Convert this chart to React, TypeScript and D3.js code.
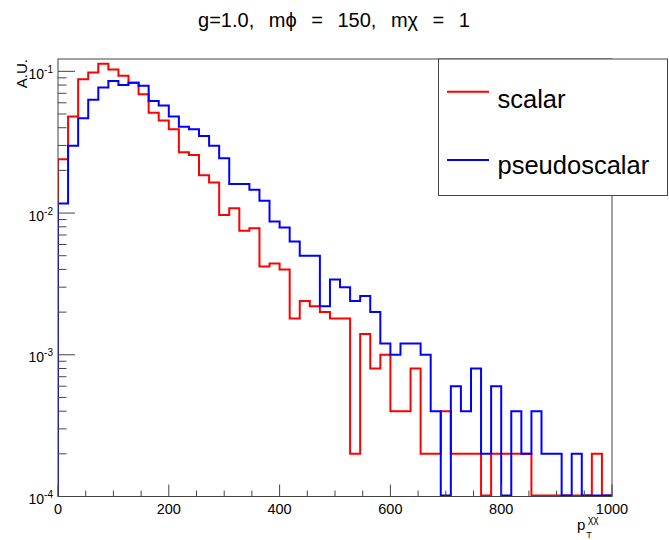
import React from "react";
import * as d3 from "d3";

const titleText = "g=1.0, mϕ = 150, mχ = 1";
const xDomain = [0, 1000];
const nBins = 55;
const scalarValues = [
  0.024, 0.048, 0.088, 0.098, 0.113, 0.103, 0.093, 0.083, 0.069, 0.051,
  0.045, 0.039, 0.0269, 0.0257, 0.0185, 0.0164, 0.0097, 0.0108, 0.0075, 0.0078,
  0.0042, 0.0044, 0.004, 0.0018, 0.0024, 0.0022, 0.002, 0.0018, 0.0018, 0.0002,
  0.0014, 0.0008, 0.001, 0.0004, 0.0004, 0.0008, 0.0002, 0.0002, 0.0004, 0.0002,
  0.0002, 0.0002, 0, 0.0002, 0.0002, 0.0002, 0.0002, 0, 0, 0,
  0, 0, 0, 0.0002, 0,
];
const pseudoscalarValues = [
  0.0117, 0.0298, 0.0467, 0.063, 0.077, 0.0855, 0.08, 0.083, 0.079, 0.0618,
  0.0573, 0.048, 0.0407, 0.039, 0.035, 0.0298, 0.0244, 0.016, 0.016, 0.0146,
  0.0122, 0.0087, 0.0079, 0.0063, 0.005, 0.005, 0.0022, 0.0034, 0.003, 0.0024,
  0.0026, 0.002, 0.0012, 0.001, 0.0012, 0.0012, 0.001, 0.0004, 0, 0.0006,
  0.0004, 0.0008, 0.0002, 0.0006, 0, 0.0004, 0.0002, 0.0004, 0.0002, 0.0002,
  0, 0.0002, 0, 0, 0,
];
const xTickLabels = [0, 200, 400, 600, 800, 1000];
const xMinorStep = 50;
const yDecades = [-4, -3, -2, -1];
const yMin = 1e-4;
const yMax = Math.pow(10, -0.913);
const seriesNames = ["scalar", "pseudoscalar"];
const seriesColors = ["#ff0000", "#0000ff"];

const FONT = "'Liberation Sans', Arial, Helvetica, sans-serif";

export default function App() {
  const W = 669;
  const H = 540;
  const left = 58;
  const right = 612;
  const top = 59;
  const bottom = 496.5;

  const x = d3.scaleLinear().domain(xDomain).range([left, right]);
  const y = d3.scaleLog().domain([yMin, yMax]).range([bottom, top]);
  const binW = (xDomain[1] - xDomain[0]) / nBins;

  const stepPath = (vals: number[]) => {
    const yv = (v: number) => (v > yMin ? y(v) : bottom - 1);
    let p = `M${x(xDomain[0])},${bottom}`;
    vals.forEach((v, i) => {
      p += `V${yv(v)}H${x(xDomain[0] + (i + 1) * binW)}`;
    });
    p += `V${bottom}`;
    return p;
  };

  const xMinor = d3.range(xDomain[0], xDomain[1] + 1, xMinorStep);
  const yMinor: number[] = [];
  yDecades.forEach((d) => {
    for (let k = 2; k <= 9; k++) {
      const v = k * Math.pow(10, d);
      if (v <= yMax) yMinor.push(v);
    }
  });

  const axisColor = "#444";

  return (
    <svg
      width={W}
      height={H}
      style={{ position: "absolute", left: 0, top: 0, background: "#fff" }}
      fontFamily={FONT}
    >
      <rect x={0} y={0} width={W} height={H} fill="#fff" />
      <defs>
        <clipPath id="frameClip">
          <rect x={left} y={top} width={right - left} height={bottom - top + 1} />
        </clipPath>
      </defs>

      {/* title */}
      <text x={334} y={27} fontSize={20} textAnchor="middle" wordSpacing={9} fill="#000">
        {titleText}
      </text>

      {/* histograms */}
      <g clipPath="url(#frameClip)" fill="none" strokeWidth={2}>
        <path d={stepPath(scalarValues)} stroke={seriesColors[0]} />
        <path d={stepPath(pseudoscalarValues)} stroke={seriesColors[1]} />
      </g>

      {/* frame */}
      <rect
        x={left}
        y={top}
        width={right - left}
        height={bottom - top}
        fill="none"
        stroke={axisColor}
        strokeWidth={1}
      />

      {/* ticks */}
      <g stroke={axisColor} strokeWidth={1}>
        {xMinor.map((v) => {
          const major = xTickLabels.includes(v);
          return (
            <line
              key={"xt" + v}
              x1={x(v)}
              x2={x(v)}
              y1={bottom}
              y2={bottom - (major ? 12 : 6)}
            />
          );
        })}
        {yDecades.map((d) => (
          <line
            key={"ym" + d}
            x1={left}
            x2={left + 17}
            y1={y(Math.pow(10, d))}
            y2={y(Math.pow(10, d))}
          />
        ))}
        {yMinor.map((v) => (
          <line key={"yn" + v} x1={left} x2={left + 8.5} y1={y(v)} y2={y(v)} />
        ))}
      </g>

      {/* x tick labels */}
      <g fontSize={14.5} fill="#000" textAnchor="middle">
        {xTickLabels.map((v) => (
          <text key={"xl" + v} x={x(v)} y={514}>
            {v}
          </text>
        ))}
      </g>

      {/* y tick labels */}
      <g fill="#000" textAnchor="end">
        {yDecades.map((d) => (
          <text key={"yl" + d} x={53} y={y(Math.pow(10, d)) + 7.5} fontSize={14}>
            10
            <tspan fontSize={10} dy={-6}>
              {String(d)}
            </tspan>
          </text>
        ))}
      </g>

      {/* axis titles */}
      <text
        transform={`translate(26.5,59) rotate(-90)`}
        textAnchor="end"
        fontSize={15}
        fill="#000"
      >
        A.U.
      </text>
      <g fill="#000">
        <text x={577} y={530} fontSize={15}>
          p
        </text>
        <text x={588} y={523} fontSize={10}>
          χχ
        </text>
        <text x={586.5} y={537.5} fontSize={8.5}>
          T
        </text>
      </g>

      {/* legend */}
      <rect x={438.5} y={59} width={229} height={136.5} fill="#fff" stroke={axisColor} strokeWidth={1} />
      {seriesNames.map((name, i) => (
        <g key={name}>
          <line
            x1={447}
            x2={489}
            y1={i === 0 ? 91.7 : 160}
            y2={i === 0 ? 91.7 : 160}
            stroke={seriesColors[i]}
            strokeWidth={2}
          />
          <text x={497.5} y={i === 0 ? 107.5 : 174} fontSize={25.5} fill="#000">
            {name}
          </text>
        </g>
      ))}
    </svg>
  );
}
